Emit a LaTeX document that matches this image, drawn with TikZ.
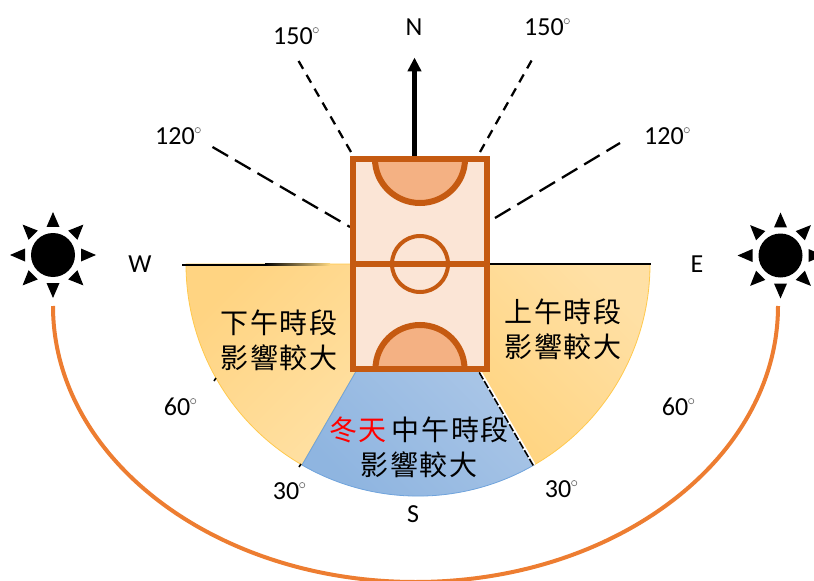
\documentclass[tikz,border=0pt]{standalone}
\usepackage{fontspec}
\setmainfont{Carlito}
\newfontfamily\cjk[LetterSpace=6]{Noto Sans CJK TC}
\usetikzlibrary{arrows.meta}
\definecolor{courtline}{HTML}{C55A11}
\definecolor{courtfill}{HTML}{FBE5D6}
\definecolor{keyfill}{HTML}{F4B183}
\definecolor{arcline}{HTML}{ED7D31}
\definecolor{sectoredge}{HTML}{FFC94D}
\definecolor{blueedge}{HTML}{6FA3DC}
\tikzset{
  lbl/.style={font=\fontsize{19.5}{22}\selectfont,text=black,inner sep=0pt},
  cn/.style={font=\cjk\fontsize{21}{24}\selectfont,text=black,inner sep=0pt,align=center},
  shortdash/.style={draw=black,line width=1.7pt,dash pattern=on 6.75pt off 5.25pt},
  longdash/.style={draw=black,line width=1.7pt,dash pattern=on 13.5pt off 6pt},
  court/.style={draw=courtline,line width=4.5pt},
}
\newcommand{\dg}{\raisebox{1.0ex}{\tikz[baseline=0pt]\draw[black!55,line width=0.5pt] (0,1.6pt) circle (2pt);}}
\newcommand{\sunat}[2]{%
  \begin{scope}[shift={(#1,#2)}]
    \fill[black] (0,0) circle (22);
    \foreach \a in {0,45,...,315}{
      \fill[rotate=\a] (28,-6.5) -- (43,0) -- (28,6.5) -- cycle;
    }
  \end{scope}}
\begin{document}
\begin{tikzpicture}[x=0.75pt,y=-0.75pt]
\useasboundingbox (0,0) rectangle (814,581);
% sectors
\coordinate (sc) at (418,264);
\coordinate (sl) at (186,264);
\coordinate (sr) at (650,264);
\coordinate (bl) at (302,465);
\coordinate (br) at (534,465);
\shade[left color={rgb,255:red,255;green,212;blue,130},right color={rgb,255:red,255;green,226;blue,168},shading angle=45,draw=sectoredge,line width=0.6pt]
  (sc) -- (sl) arc[start angle=180,end angle=120,radius=232] -- cycle;
\shade[left color={rgb,255:red,255;green,210;blue,122},right color={rgb,255:red,255;green,224;blue,165},shading angle=135,draw=sectoredge,line width=0.6pt]
  (sc) -- (br) arc[start angle=60,end angle=0,radius=232] -- cycle;
\shade[left color={rgb,255:red,143;green,181;blue,224},right color={rgb,255:red,178;green,203;blue,233},shading angle=135,draw=blueedge,line width=0.6pt]
  (sc) -- (bl) arc[start angle=120,end angle=60,radius=232] -- cycle;
% horizon
\coordinate (wl) at (182,264.5);
\coordinate (wm) at (265,264.5);
\coordinate (wr) at (350,264);
\coordinate (el) at (490,264);
\coordinate (er) at (651,264);
\draw[black,line width=1.5pt] (wl) -- (wm);
\shade[left color=black,right color=sectoredge!70!white,shading angle=90] (265,263.5) rectangle (330,265.5);
\draw[black,line width=1.5pt] (el) -- (er);
% dashed bearings
\coordinate (d1a) at (212.5,147); \coordinate (d1b) at (350,227);
\coordinate (d2a) at (298,60);  \coordinate (d2b) at (351,152);
\coordinate (d3a) at (533,58);  \coordinate (d3b) at (480,152);
\coordinate (d4a) at (620,143); \coordinate (d4b) at (495,218);
\draw[longdash] (d1a) -- (d1b);
\draw[shortdash] (d2b) -- (d2a);
\draw[shortdash] (d3b) -- (d3a);
\draw[longdash] (d4b) -- (d4a);
\coordinate (d5a) at (480,372);
\draw[white,line width=2.5pt] (d5a) -- (br);
\draw[black,line width=1.2pt,dash pattern=on 6pt off 1.5pt] (d5a) ++(-0.8,0.4) -- ([shift={(-0.8,0.4)}]br);
\draw[black,line width=1.2pt] (216,378) -- (214,381);
\draw[black,line width=1.2pt] (301,464) -- (299,467);
% court
\path[fill=courtfill] (353,159) rectangle (487,369);
\fill[keyfill] (376,159) arc[start angle=180,end angle=360,x radius=44,y radius=-44] -- cycle;
\fill[keyfill] (376,369) arc[start angle=180,end angle=360,x radius=44,y radius=44] -- cycle;
\coordinate (tl) at (353,159);
\coordinate (br2) at (487,369);
\draw[court,line cap=butt] (375,159) arc[start angle=180,end angle=360,x radius=45,y radius=-44];
\draw[court,line cap=butt] (375.5,369) arc[start angle=180,end angle=360,x radius=44.5,y radius=44];
\draw[draw=courtline,line width=3pt] (420,264) circle (28);
\draw[court] (353,263.5) -- (487,263.5);
\draw[court] (tl) rectangle (br2);
% north arrow
\coordinate (na) at (414.5,156);
\coordinate (nb) at (414.5,57.5);
\draw[black,line width=3.6pt,-{Triangle[length=10.5pt,width=10pt]}] (na) -- (nb);
% sun path
\coordinate (al) at (53,306);
\coordinate (ar) at (778,306);
\draw[arcline,line width=3pt] (al) arc[start angle=180,end angle=360,x radius=362.5,y radius=-276];
\sunat{53}{255}
\sunat{780.5}{255.5}
% labels
\node[lbl] (n) at (414,27) {N};
\node[lbl] (w) at (140,264) {W};
\node[lbl] (e) at (697,264) {E};
\node[lbl] (s) at (413,514) {S};
\node[lbl] (a150l) at (296,36) {150\dg};
\node[lbl] (a150r) at (547,27) {150\dg};
\node[lbl] (a120l) at (178,136) {120\dg};
\node[lbl] (a120r) at (667,136) {120\dg};
\node[lbl] (a60l) at (180,407) {60\dg};
\node[lbl] (a60r) at (678,407) {60\dg};
\node[lbl] (a30l) at (289,491) {30\dg};
\node[lbl] (a30r) at (561,489) {30\dg};
\node[cn] (tpm) at (279,340) {下午時段\\[2pt]影響較大};
\node[cn] (tam) at (563,329) {上午時段\\[2pt]影響較大};
\node[cn] (tnoon) at (419,447) {\textcolor{red}{冬天}\,中午時段\\[2pt]影響較大};
\end{tikzpicture}
\end{document}
